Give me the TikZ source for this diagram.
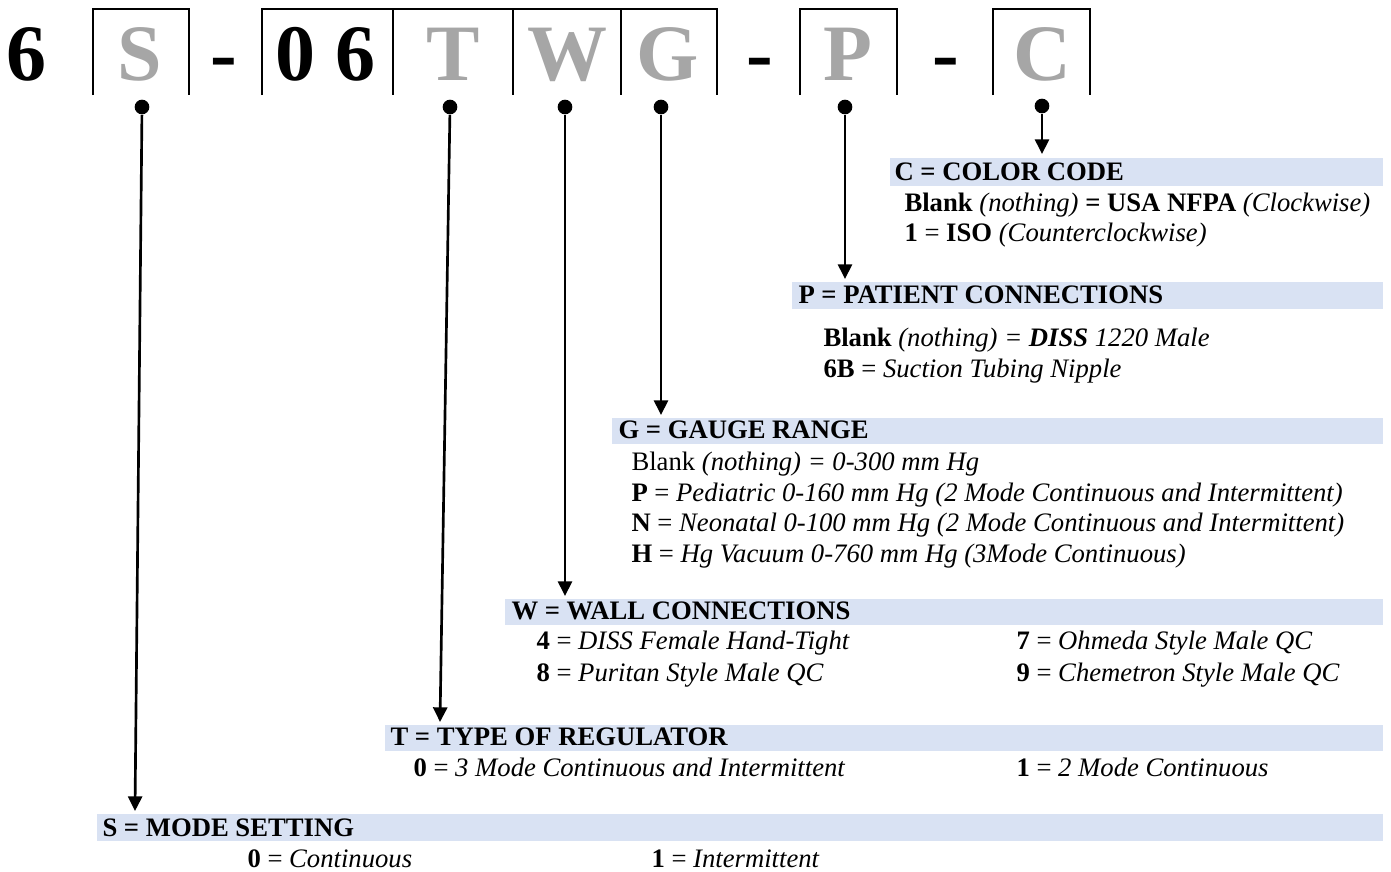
\documentclass[tikz,border=0pt]{standalone}
\usepackage{fontspec}
\setmainfont{Liberation Serif}
\usetikzlibrary{arrows.meta}

\definecolor{bandblue}{RGB}{217,226,243}
\definecolor{codegray}{RGB}{166,166,166}
\tikzset{every picture/.style={line width=0.75pt}}
\tikzset{
	pin/.style={circle, fill=black, inner sep=0pt, minimum size=11pt},
	band/.style={fill=bandblue, draw=none},
	bigchar/.style={anchor=base, inner sep=0.75pt, font=\fontsize{60}{64}\selectfont\bfseries},
	txt/.style={anchor=base west, inner sep=0.75pt, font=\fontsize{20}{24}\selectfont},
	lead/.style={line width=2pt, -{Triangle[length=11pt,width=10.5pt]}},
	boxline/.style={line width=1.6pt}}

\begin{document}
\begin{tikzpicture}[x=0.75pt,y=0.75pt,yscale=-1,xscale=1]
	\useasboundingbox (0,0) rectangle (1391,871);
	
	%Shape: Rectangle [bands]
	\fill [band] (890,158) rectangle (1383,186);
	\fill [band] (792,282) rectangle (1383,309);
	\fill [band] (612,418) rectangle (1383,444);
	\fill [band] (505,599) rectangle (1383,625);
	\fill [band] (385,725) rectangle (1383,751);
	\fill [band] (97,814) rectangle (1383,841);
	
	%Straight Lines [code boxes]
	\draw [boxline] (93,95) -- (93,9) -- (189,9) -- (189,95);
	\draw [boxline] (262,95) -- (262,9) -- (717,9) -- (717,95);
	\draw [boxline] (393,9) -- (393,95) (513,9) -- (513,95) (621,9) -- (621,95);
	\draw [boxline] (800,95) -- (800,9) -- (897,9) -- (897,95);
	\draw [boxline] (993,95) -- (993,9) -- (1090,9) -- (1090,95);
	
	% Text Node [code]
	\draw (27,80) node (six) [bigchar] {6};
	\draw (140,80) node (sChar) [bigchar, color=codegray] {S};
	\draw (224,80) node (dashA) [bigchar] {-};
	\draw (325,80) node (zeroSix) [bigchar] {0 6};
	\draw (453,80) node (tChar) [bigchar, color=codegray] {T};
	\draw (567,80) node (wChar) [bigchar, color=codegray] {W};
	\draw (668,80) node (gChar) [bigchar, color=codegray] {G};
	\draw (760,80) node (dashB) [bigchar] {-};
	\draw (848,80) node (pChar) [bigchar, color=codegray] {P};
	\draw (946,80) node (dashC) [bigchar] {-};
	\draw (1042,80) node (cChar) [bigchar, color=codegray] {C};
	
	%Shape: Circle [pins]
	\node (sPin) [pin] at (142,107) {};
	\node (tPin) [pin] at (450,107) {};
	\node (wPin) [pin] at (565,107) {};
	\node (gPin) [pin] at (661,107) {};
	\node (pPin) [pin] at (845,107) {};
	\node (cPin) [pin] at (1042,106) {};
	
	\coordinate (sTip) at (135,811);
	\coordinate (tTip) at (440,722);
	\coordinate (wTip) at (565,596);
	\coordinate (gTip) at (661,415);
	\coordinate (pTip) at (845,279);
	\coordinate (cTip) at (1042,154);
	
	%Straight Lines [leaders]
	\draw [lead] (sPin) -- (sTip);
	\draw [lead] (tPin) -- (tTip);
	\draw [lead] (wPin) -- (wTip);
	\draw [lead] (gPin) -- (gTip);
	\draw [lead] (pPin) -- (pTip);
	\draw [lead] (cPin) -- (cTip);
	
	% Text Node [C]
	\draw (893,180) node (cHead) [txt] {\textbf{C = COLOR CODE}};
	\draw (903,211) node (cBlank) [txt] {\textbf{Blank} \textit{(nothing)} \textbf{= USA NFPA} \textit{(Clockwise)}};
	\draw (903,241) node (cOne) [txt] {\textbf{1} = \textbf{ISO} \textit{(Counterclockwise)}};
	
	% Text Node [P]
	\draw (797,303) node (pHead) [txt] {\textbf{P = PATIENT CONNECTIONS}};
	\draw (822,346) node (pBlank) [txt] {\textbf{Blank} \textit{(nothing) =} \textbf{\textit{DISS}} \textit{1220 Male}};
	\draw (822,377) node (pSixB) [txt] {\textbf{6B} = \textit{Suction Tubing Nipple}};
	
	% Text Node [G]
	\draw (617,438) node (gHead) [txt] {\textbf{G = GAUGE RANGE}};
	\draw (630,470) node (gBlank) [txt] {Blank \textit{(nothing) = 0-300 mm Hg}};
	\draw (630,501) node (gP) [txt] {\textbf{P} = \textit{Pediatric 0-160 mm Hg (2 Mode Continuous and Intermittent)}};
	\draw (630,531) node (gN) [txt] {\textbf{N} = \textit{Neonatal 0-100 mm Hg (2 Mode Continuous and Intermittent)}};
	\draw (630,562) node (gH) [txt] {\textbf{H} = \textit{Hg Vacuum 0-760 mm Hg (3Mode Continuous)}};
	
	% Text Node [W]
	\draw (510,619) node (wHead) [txt] {\textbf{W = WALL CONNECTIONS}};
	\draw (535,649) node (wFour) [txt] {\textbf{4} = \textit{DISS Female Hand-Tight}};
	\draw (1015,649) node (wSeven) [txt] {\textbf{7} = \textit{Ohmeda Style Male QC}};
	\draw (535,681) node (wEight) [txt] {\textbf{8} = \textit{Puritan Style Male QC}};
	\draw (1015,681) node (wNine) [txt] {\textbf{9} = \textit{Chemetron Style Male QC}};
	
	% Text Node [T]
	\draw (389,745) node (tHead) [txt] {\textbf{T = TYPE OF REGULATOR}};
	\draw (412,776) node (tZero) [txt] {\textbf{0} = \textit{3 Mode Continuous and Intermittent}};
	\draw (1015,776) node (tOne) [txt] {\textbf{1} = \textit{2 Mode Continuous}};
	
	% Text Node [S]
	\draw (101,836) node (sHead) [txt] {\textbf{S = MODE SETTING}};
	\draw (246,867) node (sZero) [txt] {\textbf{0} = \textit{Continuous}};
	\draw (650,867) node (sOne) [txt] {\textbf{1} = \textit{Intermittent}};
	
\end{tikzpicture}
\end{document}
